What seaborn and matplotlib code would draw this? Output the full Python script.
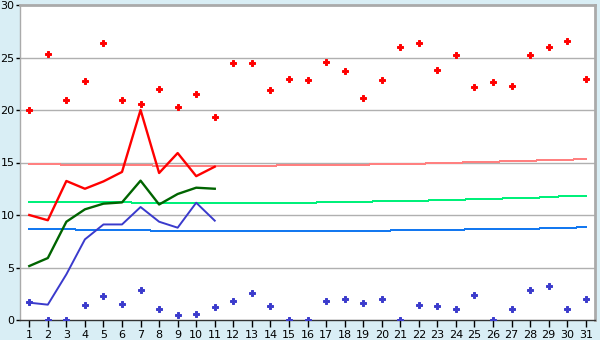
import numpy as np
import pandas as pd
import matplotlib
matplotlib.use("Agg")
import matplotlib.pyplot as plt
import seaborn as sns

days = list(range(1, 32))
tmax_points = [20.0, 25.3, 21.0, 22.8, 26.4, 21.0, 20.6, 22.0, 20.25, 21.5, 19.3,
               24.5, 24.5, 21.9, 23.0, 22.9, 24.6, 23.7, 21.1, 22.9, 26.0,
               26.35, 23.8, 25.2, 22.2, 22.7, 22.25, 25.2, 26.0, 26.6, 23.0]
tmin_points = [1.7, 0.0, 0.0, 1.4, 2.25, 1.5, 2.83, 1.02, 0.45, 0.54, 1.2,
               1.78, 2.54, 1.3, 0.0, 0.0, 1.78, 1.97, 1.59, 1.97, 0.0,
               1.4, 1.3, 1.02, 2.35, 0.0, 1.02, 2.83, 3.2, 1.02, 1.97]
line_days = list(range(1, 12))
tmax_line = [10.0, 9.5, 13.24, 12.5, 13.2, 14.1, 20.0, 14.0, 15.9, 13.7, 14.6]
tmean_line = [5.14, 5.9, 9.36, 10.54, 11.08, 11.2, 13.27, 11.0, 12.0, 12.6, 12.5]
tmin_line = [1.65, 1.46, 4.35, 7.68, 9.1, 9.1, 10.76, 9.36, 8.79, 11.17, 9.46]
norm_max = [14.87, 14.87, 14.78, 14.78, 14.78, 14.78, 14.78, 14.68, 14.68, 14.68,
            14.68, 14.68, 14.68, 14.68, 14.78, 14.78, 14.78, 14.78, 14.78, 14.87,
            14.87, 14.87, 14.97, 14.97, 15.06, 15.06, 15.16, 15.16, 15.25, 15.25, 15.35]
norm_mean = [11.24, 11.24, 11.24, 11.24, 11.24, 11.24, 11.14, 11.14, 11.14, 11.14,
             11.14, 11.14, 11.14, 11.14, 11.14, 11.14, 11.24, 11.24, 11.24, 11.33,
             11.33, 11.33, 11.43, 11.43, 11.52, 11.52, 11.62, 11.62, 11.71, 11.81, 11.81]
norm_min = [8.67, 8.67, 8.67, 8.57, 8.57, 8.57, 8.57, 8.48, 8.48, 8.48,
            8.48, 8.48, 8.48, 8.48, 8.48, 8.48, 8.48, 8.48, 8.48, 8.48,
            8.57, 8.57, 8.57, 8.57, 8.67, 8.67, 8.67, 8.67, 8.76, 8.76, 8.86]
y_ticks = [0, 5, 10, 15, 20, 25, 30]

pts = pd.DataFrame({"day": days, "tmax": tmax_points, "tmin": tmin_points,
                    "nmax": norm_max, "nmean": norm_mean, "nmin": norm_min})
ln = pd.DataFrame({"day": line_days, "tmax": tmax_line, "tmean": tmean_line, "tmin": tmin_line})

bg = "#D9EEF5"
fig = plt.figure(figsize=(6, 3.4), dpi=100, facecolor=bg)
ax = fig.add_axes([20/600, 20/340, 575/600, 315/340])
ax.set_facecolor("white")

for yv in y_ticks[1:-1]:
    ax.axhline(yv, color="#B0B0B0", lw=1.0, zorder=0)

sns.lineplot(data=pts, x="day", y="nmax", ax=ax, color="#FF8080", lw=0.72, zorder=1, antialiased=False)
sns.lineplot(data=pts, x="day", y="nmean", ax=ax, color="#00F07A", lw=0.72, zorder=1, antialiased=False)
sns.lineplot(data=pts, x="day", y="nmin", ax=ax, color="#1478F0", lw=0.72, zorder=1, antialiased=False)

sns.lineplot(data=ln, x="day", y="tmax", ax=ax, color="#FF0000", lw=1.7, zorder=3)
sns.lineplot(data=ln, x="day", y="tmean", ax=ax, color="#006400", lw=1.7, zorder=3)
sns.lineplot(data=ln, x="day", y="tmin", ax=ax, color="#3A3ACC", lw=1.4, zorder=3)

ax.plot(pts["day"], pts["tmax"], linestyle="none", marker="P", markersize=5,
        color="#FF0000", markeredgecolor="#FF0000", markeredgewidth=0.7, zorder=4)
ax.plot(pts["day"], pts["tmin"], linestyle="none", marker="P", markersize=5,
        color="#3A3ACC", markeredgecolor="#3A3ACC", markeredgewidth=0.7, zorder=4)

ax.set_xlim(0.5, 31.5)
ax.set_ylim(0, 30)
ax.set_xticks(days)
ax.set_xticklabels([str(d) for d in days])
ax.set_yticks(y_ticks)
ax.set_yticklabels([str(v) for v in y_ticks])
ax.set_xlabel("")
ax.set_ylabel("")
ax.tick_params(axis="x", length=5, width=1, color="black", labelsize=8, pad=2, labelcolor="black")
ax.tick_params(axis="y", length=3, width=1, color="black", labelsize=8, pad=1, labelcolor="black")

for s in ["top", "right"]:
    ax.spines[s].set_color("#AAAAAA")
    ax.spines[s].set_linewidth(2)
ax.spines["left"].set_color("#AAAAAA")
ax.spines["left"].set_linewidth(1)
ax.spines["bottom"].set_color("#333333")
ax.spines["bottom"].set_linewidth(1)

fig.savefig("out.png", dpi=100, facecolor=bg)
